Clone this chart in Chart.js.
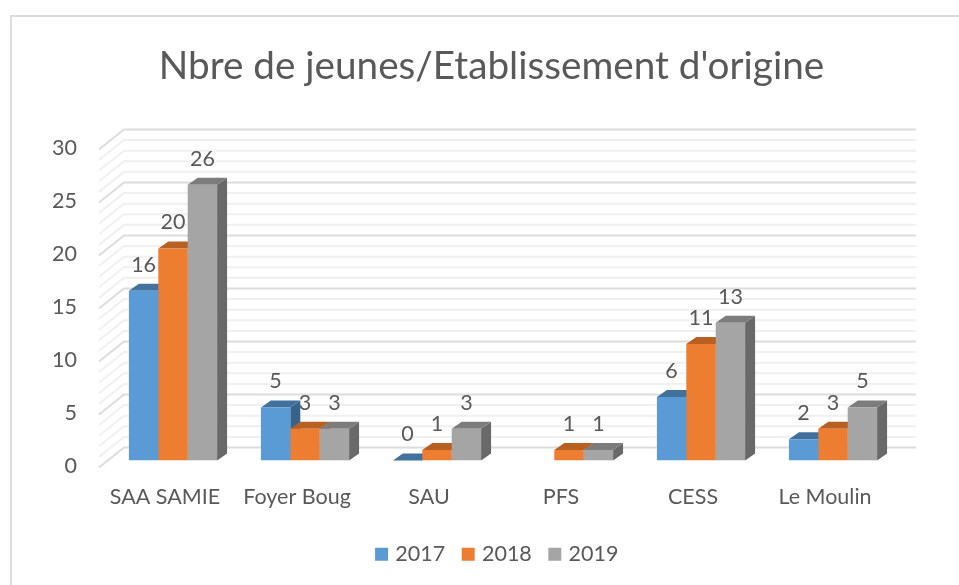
<!DOCTYPE html>
<html>
<head>
<meta charset="utf-8">
<script src="https://cdn.jsdelivr.net/npm/chart.js@4"></script>
<style>
  html, body { margin: 0; padding: 0; background: #fff; }
  #wrap { position: relative; width: 959px; height: 585px; overflow: hidden; }
  #frame { position: absolute; left: 10px; top: 15px; width: 1000px; height: 700px; border: 2px solid #dcdcdc; }
  canvas { position: absolute; left: 0; top: 0; }
</style>
</head>
<body>
<div id="wrap">
  <div id="frame"></div>
  <canvas id="chart" width="959" height="585"></canvas>
</div>
<script>
const categories = ["SAA SAMIE", "Foyer Boug", "SAU", "PFS", "CESS", "Le Moulin"];
const values2017 = [16, 5, 0, null, 6, 2];
const values2018 = [20, 3, 1, 1, 11, 3];
const values2019 = [26, 3, 3, 1, 13, 5];

const textColor = "#595959";
const fontFamily = "Lato, sans-serif";

// bars sit a bit behind the front plane, back wall is further still
const barShift = { x: 8, y: -7 };
const barDepth = { x: 10, y: 7 };
const wallDepth = { x: 25, y: -20 };

const faceColors = [
  { top: "#41719c", side: "#37628a" },
  { top: "#b85f22", side: "#ad5a20" },
  { top: "#7c7c7c", side: "#696969" },
];

const fake3d = {
  id: "fake3d",
  afterLayout(chart) {
    // title and legend are not centred on the same line in the original
    chart.titleBlock.left += 46;
    chart.titleBlock.right += 46;
    chart.legend.left += 53;
    chart.legend.right += 53;
  },
  beforeDatasetsDraw(chart) {
    const { ctx, scales } = chart;
    const { left, right } = chart.chartArea;

    ctx.save();
    scales.y.ticks.forEach((tick) => {
      const y = scales.y.getPixelForValue(tick.value);
      ctx.strokeStyle = tick.value % 5 === 0 ? "#dcdcdc" : "#f0f0f0";
      ctx.lineWidth = 2;
      ctx.beginPath();
      ctx.moveTo(left, y);
      ctx.lineTo(left + wallDepth.x, y + wallDepth.y);
      ctx.lineTo(right + wallDepth.x, y + wallDepth.y);
      ctx.stroke();
    });
    ctx.restore();

    ctx.save();
    ctx.translate(barShift.x, barShift.y);
    chart.data.datasets.forEach((ds, i) => {
      chart.getDatasetMeta(i).data.forEach((bar, j) => {
        if (ds.data[j] === null) return;
        const x0 = bar.x - bar.width / 2;
        const x1 = bar.x + bar.width / 2;
        ctx.fillStyle = faceColors[i].side;
        ctx.beginPath();
        ctx.moveTo(x1, bar.y);
        ctx.lineTo(x1 + barDepth.x, bar.y - barDepth.y);
        ctx.lineTo(x1 + barDepth.x, bar.base - barDepth.y);
        ctx.lineTo(x1, bar.base);
        ctx.closePath();
        ctx.fill();
        ctx.fillStyle = faceColors[i].top;
        ctx.beginPath();
        ctx.moveTo(x0, bar.y);
        ctx.lineTo(x0 + barDepth.x, bar.y - barDepth.y);
        ctx.lineTo(x1 + barDepth.x, bar.y - barDepth.y);
        ctx.lineTo(x1, bar.y);
        ctx.closePath();
        ctx.fill();
      });
    });
  },
  afterDatasetsDraw(chart) {
    const { ctx } = chart;
    ctx.restore();

    // value labels on top of the bars
    ctx.save();
    ctx.fillStyle = textColor;
    ctx.font = "21.5px " + fontFamily;
    ctx.textAlign = "center";
    ctx.textBaseline = "middle";
    chart.data.datasets.forEach((ds, i) => {
      chart.getDatasetMeta(i).data.forEach((bar, j) => {
        if (ds.data[j] === null) return;
        ctx.fillText(ds.data[j], bar.x + barShift.x, bar.y + barShift.y - 26);
      });
    });
    ctx.restore();
  },
};

new Chart(document.getElementById("chart").getContext("2d"), {
  type: "bar",
  data: {
    labels: categories,
    datasets: [
      { label: "2017", data: values2017, backgroundColor: "#5b9bd5" },
      { label: "2018", data: values2018, backgroundColor: "#ed7d31" },
      { label: "2019", data: values2019, backgroundColor: "#a5a5a5" },
    ],
  },
  plugins: [fake3d],
  options: {
    responsive: false,
    animation: false,
    layout: { padding: { left: 0, right: 68, top: 0, bottom: 10 } },
    datasets: { bar: { barPercentage: 1, categoryPercentage: 0.668, borderWidth: 0 } },
    scales: {
      x: {
        grid: { display: false },
        border: { display: false },
        ticks: {
          color: textColor,
          font: { family: fontFamily, size: 21.5 },
          padding: 9,
          autoSkip: false,
          maxRotation: 0,
        },
        afterFit(scale) { scale.height = 56; },
      },
      y: {
        min: 0,
        max: 30,
        grid: { display: false },
        border: { display: false },
        ticks: {
          stepSize: 1,
          autoSkip: false,
          color: textColor,
          font: { family: fontFamily, size: 21.5 },
          padding: 14,
          labelOffset: -1,
          callback: (v) => (v % 5 === 0 ? v : ""),
        },
        afterFit(scale) { scale.width = 99; },
      },
    },
    plugins: {
      title: {
        display: true,
        text: "Nbre de jeunes/Etablissement d'origine",
        color: textColor,
        font: { family: fontFamily, size: 38.7, weight: "normal" },
        padding: { top: 43, bottom: 60 },
      },
      legend: {
        position: "bottom",
        labels: {
          color: textColor,
          font: { family: fontFamily, size: 21.5 },
          usePointStyle: true,
          pointStyle: "rect",
          // narrow box so the square sits close to its text
          boxWidth: 6,
          boxHeight: 13,
          padding: 20,
        },
      },
      tooltip: { enabled: false },
    },
  },
});
</script>
</body>
</html>
